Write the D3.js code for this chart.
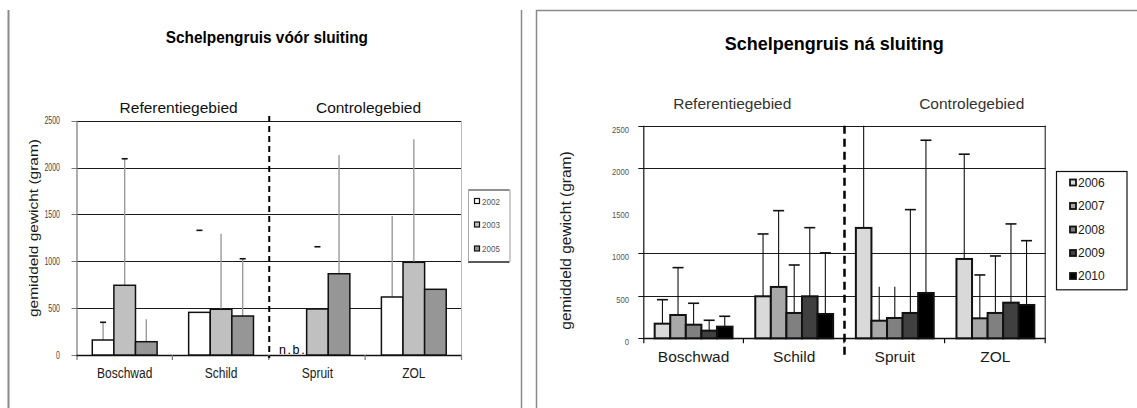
<!DOCTYPE html>
<html>
<head>
<meta charset="utf-8">
<script src="https://cdn.jsdelivr.net/npm/d3@7"></script>
<style>
  html, body { margin: 0; padding: 0; background: #fff; }
  svg { display: block; font-family: "Liberation Sans", Arial, sans-serif; }
</style>
</head>
<body>
<svg id="chart" width="1137" height="408"></svg>
<script>
// ---- data -------------------------------------------------------------
const sites = ["Boschwad", "Schild", "Spruit", "ZOL"];
const regions = ["Referentiegebied", "Controlegebied"];
const yTicks = [0, 500, 1000, 1500, 2000, 2500];

// before closure (mean weight, gram); null = not sampled (n.b.)
const yearsBefore = ["2002", "2003", "2005"];
const before2002 = [160, 455, null, 619];
const before2003 = [744, 488, 491, 989];
const before2005 = [142, 416, 867, 701];
// upper end of the error bars
const errBefore2002 = [349, 1330, null, 1483];
const errBefore2003 = [2094, 1294, 1155, 2301];
const errBefore2005 = [381, 1027, 2134, null];
// which parts of each error bar are drawn: "sc" stem+cap, "s" stem, "c" cap
const errPartsBefore2002 = ["sc", "c", null, "s"];
const errPartsBefore2003 = ["sc", "s", "c", "s"];
const errPartsBefore2005 = ["s", "sc", "s", null];

// after closure
const yearsAfter = ["2006", "2007", "2008", "2009", "2010"];
const after2006 = [172, 494, 1298, 933];
const after2007 = [274, 604, 207, 235];
const after2008 = [160, 298, 239, 298];
const after2009 = [90, 494, 298, 419];
const after2010 = [137, 286, 533, 392];
const errAfter2006 = [454, 1227, 2600, 2165];
const errAfter2007 = [831, 1501, 607, 745];
const errAfter2008 = [412, 862, 607, 968];
const errAfter2009 = [212, 1301, 1513, 1345];
const errAfter2010 = [259, 1005, 2329, 1148];
const errPartsAfter2007 = ["sc", "sc", "s", "sc"];
const errPartsAfter2008 = ["sc", "sc", "s", "sc"];

const svg = d3.select("#chart");

// condensed text helper
function txt(g, x, y, s, o = {}) {
  const t = g.append("text")
    .attr("transform", `translate(${x},${y}) rotate(${o.rot || 0}) scale(${o.sx || 1},${o.sy || 1})`)
    .attr("text-anchor", o.anchor || "middle")
    .attr("font-size", o.size || 12)
    .attr("font-weight", o.weight || "normal")
    .attr("fill", o.fill || "#000")
    .text(s);
  if (o.ls) t.attr("letter-spacing", o.ls);
  return t;
}

// ---- panel frames ------------------------------------------------------
const frame = svg.append("g").attr("fill", "none").attr("stroke", "#8a8a8a");
frame.append("line").attr("x1", 8.5).attr("x2", 8.5).attr("y1", 10).attr("y2", 408).attr("stroke-width", 2);
frame.append("line").attr("x1", 521.5).attr("x2", 521.5).attr("y1", 10).attr("y2", 408).attr("stroke-width", 1.5);
frame.append("path").attr("d", "M536.5,408V10.5H1137").attr("stroke-width", 1.5);

// ---- generic panel -----------------------------------------------------
function panel(cfg) {
  const g = svg.append("g");
  const x = d3.scaleBand().domain(sites).range([cfg.x0, cfg.x1]);
  const y = d3.scaleLinear().domain([0, 2500]).range([cfg.yBottom, cfg.yTop]).clamp(true);
  const xs = d3.scaleBand().domain(cfg.years).range([0, x.bandwidth()]).paddingOuter(0.73);

  // gridlines
  g.append("g").selectAll("line")
    .data(yTicks.filter(v => v > 0 && cfg.grid.includes(v)))
    .join("line")
    .attr("x1", cfg.x0).attr("x2", cfg.x1)
    .attr("y1", d => Math.round(y(d)) + 0.5).attr("y2", d => Math.round(y(d)) + 0.5)
    .attr("stroke", "#1a1a1a").attr("stroke-width", 1);

  // value axis
  const ax = g.append("g").attr("transform", `translate(${cfg.x0},0)`)
    .call(d3.axisLeft(y).tickValues(yTicks).tickSize(0).tickFormat(""));
  ax.select(".domain").remove();
  g.append("line").attr("x1", cfg.x0 + 0.5).attr("x2", cfg.x0 + 0.5)
    .attr("y1", cfg.yTop).attr("y2", cfg.yBottom + 5)
    .attr("stroke", cfg.axisColor).attr("stroke-width", 1.2);
  g.append("g").selectAll("line").data(yTicks.filter(v => cfg.tickMarks.includes(v))).join("line")
    .attr("x1", cfg.x0 - 5).attr("x2", cfg.x0)
    .attr("y1", d => Math.round(y(d)) + 0.5).attr("y2", d => Math.round(y(d)) + 0.5)
    .attr("stroke", cfg.axisColor);
  yTicks.forEach(v => txt(g, cfg.tickLabelX, y(v) + cfg.tickDy, String(v),
    { anchor: "end", size: cfg.tickSize, sx: cfg.tickSx, fill: cfg.tickFill }));

  // right border and baseline
  g.append("line").attr("x1", cfg.x1 - 0.5).attr("x2", cfg.x1 - 0.5)
    .attr("y1", cfg.yTop).attr("y2", cfg.yBottom)
    .attr("stroke", cfg.rightColor).attr("stroke-width", 1);
  g.append("line").attr("x1", cfg.x0).attr("x2", cfg.x1)
    .attr("y1", Math.round(cfg.yBottom) + 0.5).attr("y2", Math.round(cfg.yBottom) + 0.5)
    .attr("stroke", "#111").attr("stroke-width", 1.5);
  // category separator ticks
  g.append("g").selectAll("line").data(sites.slice(1).concat(["end"])).join("line")
    .attr("x1", d => (d === "end" ? cfg.x1 : x(d)) - 0.5)
    .attr("x2", d => (d === "end" ? cfg.x1 : x(d)) - 0.5)
    .attr("y1", cfg.yBottom).attr("y2", cfg.yBottom + 5)
    .attr("stroke", cfg.axisColor).attr("stroke-width", 1.2);

  // bars + error bars
  cfg.years.forEach((yr, k) => {
    const vals = cfg.values[k], errs = cfg.errors[k], parts = cfg.parts[k];
    const col = cfg.colors[k];
    const sg = g.append("g");
    sites.forEach((s, i) => {
      const v = vals[i];
      if (v == null) return;
      const bx = x(s) + xs(yr), cx = bx + xs.bandwidth() / 2;
      const e = errs[i], p = parts ? parts[i] : "sc";
      if (e != null && p) {
        if (p.includes("s")) sg.append("line").attr("x1", cx).attr("x2", cx)
          .attr("y1", y(v)).attr("y2", y(e))
          .attr("stroke", cfg.errStem).attr("stroke-width", cfg.errWidth);
        if (p.includes("c") && e <= 2500) sg.append("line")
          .attr("x1", cx - cfg.capW / 2).attr("x2", cx + cfg.capW / 2)
          .attr("y1", y(e)).attr("y2", y(e))
          .attr("stroke", "#111").attr("stroke-width", 1.6);
      }
      sg.append("rect")
        .attr("x", bx).attr("width", xs.bandwidth())
        .attr("y", y(v)).attr("height", y(0) - y(v))
        .attr("fill", col).attr("stroke", "#111").attr("stroke-width", cfg.barStroke);
    });
  });

  // divider between reference and control area
  g.append("line").attr("x1", x("Spruit")).attr("x2", x("Spruit"))
    .attr("y1", cfg.dashTop).attr("y2", cfg.dashBottom)
    .attr("stroke", "#000").attr("stroke-width", cfg.dashW).attr("stroke-dasharray", cfg.dash);

  // category labels
  sites.forEach(s => txt(g, x(s) + x.bandwidth() / 2, cfg.catY, s,
    { size: cfg.catSize, sx: cfg.catSx, fill: "#1a1a1a" }));

  // area labels
  txt(g, cfg.regionX[0], cfg.regionY, regions[0], { size: cfg.regionSize, fill: cfg.regionFill });
  txt(g, cfg.regionX[1], cfg.regionY, regions[1], { size: cfg.regionSize, fill: cfg.regionFill });

  // title
  txt(g, cfg.titleX, cfg.titleY, cfg.title, { size: cfg.titleSize, weight: "bold", sx: cfg.titleSx });

  // y axis title
  txt(g, cfg.yTitleX, cfg.yTitleY, "gemiddeld gewicht (gram)",
    { size: cfg.yTitleSize, rot: -90, sy: cfg.yTitleSy, fill: "#1a1a1a" });

  // legend
  const L = cfg.legend;
  const lg = g.append("g");
  if (L.split) {
    lg.append("line").attr("x1", L.x0).attr("x2", L.x1).attr("y1", L.y0 + 0.5).attr("y2", L.y0 + 0.5).attr("stroke", "#222");
    lg.append("line").attr("x1", L.x0).attr("x2", L.x1).attr("y1", L.y1 + 0.5).attr("y2", L.y1 + 0.5).attr("stroke", "#222").attr("stroke-width", 1.5);
    lg.append("line").attr("x1", L.x0 + 0.5).attr("x2", L.x0 + 0.5).attr("y1", L.y0).attr("y2", L.y1).attr("stroke", "#aaa");
    lg.append("line").attr("x1", L.x1 + 0.5).attr("x2", L.x1 + 0.5).attr("y1", L.y0).attr("y2", L.y1).attr("stroke", "#999");
  } else {
    lg.append("rect").attr("x", L.x0 + 0.5).attr("y", L.y0 + 0.5)
      .attr("width", L.x1 - L.x0).attr("height", L.y1 - L.y0)
      .attr("fill", "#fff").attr("stroke", "#111").attr("stroke-width", 1.2);
  }
  cfg.years.forEach((yr, k) => {
    const cy = L.rows[k];
    lg.append("rect").attr("x", L.sqX).attr("y", cy - L.sq / 2)
      .attr("width", L.sq).attr("height", L.sq)
      .attr("fill", cfg.colors[k]).attr("stroke", "#111").attr("stroke-width", L.sqStroke);
    txt(lg, L.textX, cy + L.textDy, yr, { anchor: "start", size: L.size, sx: L.sx, fill: L.fill });
  });
  return { g, x, y };
}

// ---- left: before closure ---------------------------------------------
const left = panel({
  x0: 76.5, x1: 462, yTop: 120.7, yBottom: 355,
  years: yearsBefore,
  values: [before2002, before2003, before2005],
  errors: [errBefore2002, errBefore2003, errBefore2005],
  parts: [errPartsBefore2002, errPartsBefore2003, errPartsBefore2005],
  colors: ["#ffffff", "#c0c0c0", "#969696"],
  grid: [500, 1000, 1500, 2000, 2500], tickMarks: yTicks,
  axisColor: "#777", rightColor: "#bbb",
  tickLabelX: 60, tickDy: 3.5, tickSize: 10, tickSx: 0.7, tickFill: "#444",
  errStem: "#9a9a9a", errWidth: 1.4, capW: 6, barStroke: 1.5,
  dashTop: 116, dashBottom: 358, dashW: 2, dash: "6,4",
  catY: 377.5, catSize: 15, catSx: 0.8,
  regionX: [178.6, 368.5], regionY: 113, regionSize: 15.5, regionFill: "#111",
  title: "Schelpengruis vóór sluiting", titleX: 266.9, titleY: 42.5, titleSize: 16, titleSx: 0.96,
  yTitleX: 38, yTitleY: 228, yTitleSize: 15.5, yTitleSy: 0.78,
  legend: { split: true, x0: 468, x1: 509.5, y0: 189.5, y1: 261.5, rows: [201, 224.5, 248.5],
            sqX: 474.5, sq: 5, sqStroke: 1.2, textX: 482, textDy: 3.5, size: 9.5, sx: 0.85, fill: "#555" }
});
// not sampled marker
txt(left.g, 279, 353.5, "n.b.", { anchor: "start", size: 12.5, ls: 1.6 });

// ---- right: after closure ---------------------------------------------
panel({
  x0: 643.3, x1: 1045.7, yTop: 125.7, yBottom: 338.3,
  years: yearsAfter,
  values: [after2006, after2007, after2008, after2009, after2010],
  errors: [errAfter2006, errAfter2007, errAfter2008, errAfter2009, errAfter2010],
  parts: [null, errPartsAfter2007, errPartsAfter2008, null, null],
  colors: ["#d9d9d9", "#a8a8a8", "#808080", "#404040", "#000000"],
  grid: [500, 1000, 2000, 2500], tickMarks: [0, 500, 1000, 2000, 2500],
  axisColor: "#111", rightColor: "#111",
  tickLabelX: 629, tickDy: 7, tickSize: 9, tickSx: 0.85, tickFill: "#555",
  errStem: "#111", errWidth: 1.1, capW: 11, barStroke: 2,
  dashTop: 125.7, dashBottom: 355, dashW: 2.5, dash: "8,5",
  catY: 361.5, catSize: 15.5, catSx: 1,
  regionX: [732.3, 971.7], regionY: 108.5, regionSize: 15.5, regionFill: "#333",
  title: "Schelpengruis ná sluiting", titleX: 834.2, titleY: 49.5, titleSize: 18, titleSx: 1,
  yTitleX: 571, yTitleY: 240.5, yTitleSize: 15.5, yTitleSy: 1,
  legend: { split: false, x0: 1056, x1: 1126.5, y0: 171, y1: 289.3, rows: [182.5, 206, 229.5, 253, 276],
            sqX: 1070, sq: 6, sqStroke: 1.8, textX: 1078, textDy: 4.3, size: 12, sx: 1, fill: "#1a1a1a" }
});
</script>
</body>
</html>
